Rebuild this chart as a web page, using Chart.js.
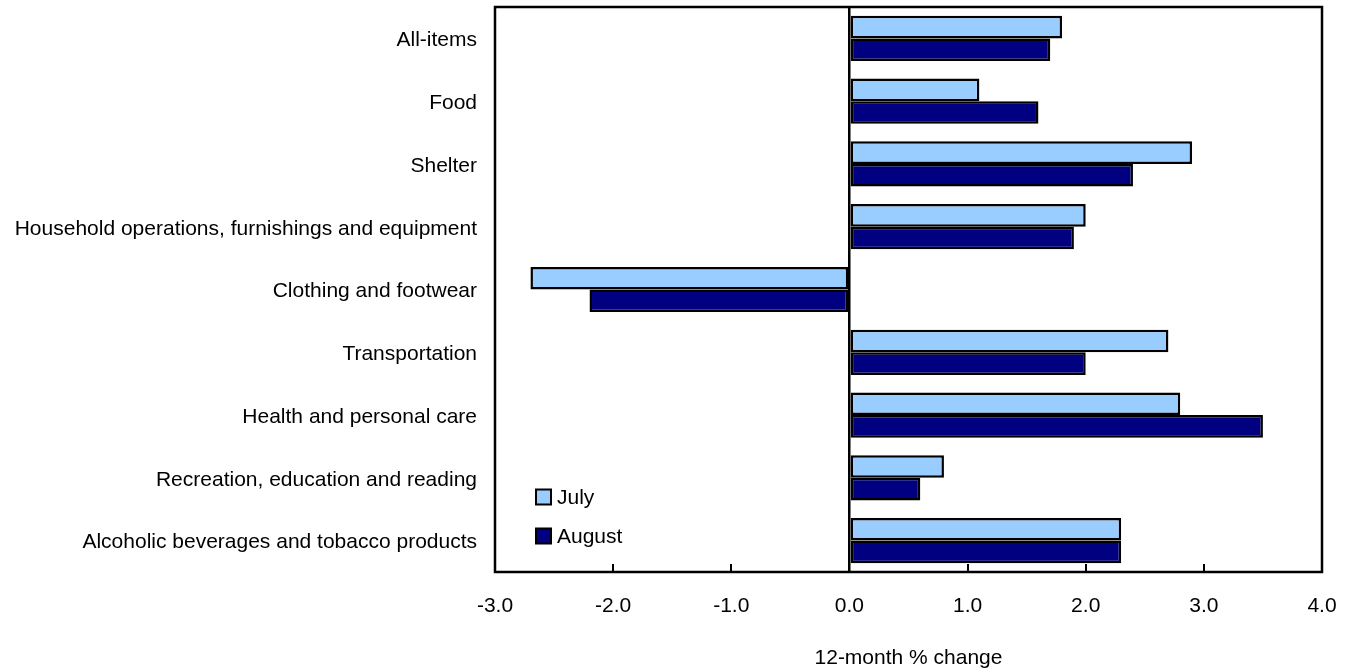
<!DOCTYPE html>
<html>
<head>
<meta charset="utf-8">
<script src="https://cdn.jsdelivr.net/npm/chart.js@4.4.1/dist/chart.umd.min.js"></script>
<style>
html,body{margin:0;padding:0;background:#fff;}
#wrap{width:1348px;height:668px;position:relative;}
</style>
</head>
<body>
<div id="wrap"><canvas id="c"></canvas></div>
<script>
const categories = [
  "All-items",
  "Food",
  "Shelter",
  "Household operations, furnishings and equipment",
  "Clothing and footwear",
  "Transportation",
  "Health and personal care",
  "Recreation, education and reading",
  "Alcoholic beverages and tobacco products"
];
const julyValues = [1.8, 1.1, 2.9, 2.0, -2.7, 2.7, 2.8, 0.8, 2.3];
const augustValues = [1.7, 1.6, 2.4, 1.9, -2.2, 2.0, 3.5, 0.6, 2.3];
const seriesNames = ["July", "August"];
const xTickMin = -3, xTickMax = 4, xTickStep = 1;
const xTitle = "12-month % change";

const FONT = "'Liberation Sans', Arial, Helvetica, sans-serif";
const FS = 21;
const colors = ["#99CCFF", "#000080"];

const framePlugin = {
  id: 'frame',
  afterDraw(chart) {
    const {ctx, chartArea: a, scales} = chart;
    ctx.save();
    ctx.strokeStyle = '#000';
    ctx.lineWidth = 2.5;
    ctx.strokeRect(a.left, a.top, a.right - a.left, a.bottom - a.top);
    const xs = scales.x;
    ctx.lineWidth = 2;
    xs.ticks.forEach(t => {
      const px = Math.round(xs.getPixelForValue(t.value));
      ctx.beginPath();
      ctx.moveTo(px, a.bottom);
      ctx.lineTo(px, a.bottom - 8);
      ctx.stroke();
    });
    ctx.font = FS + "px " + FONT;
    ctx.textBaseline = 'middle';
    ctx.textAlign = 'left';
    const lx = a.left + 41;
    const ly = [a.bottom - 75, a.bottom - 36];
    chart.data.datasets.forEach((ds, i) => {
      ctx.fillStyle = ds.backgroundColor;
      ctx.fillRect(lx, ly[i] - 7.5, 15, 15);
      ctx.lineWidth = 2;
      ctx.strokeStyle = '#000';
      ctx.strokeRect(lx, ly[i] - 7.5, 15, 15);
      ctx.fillStyle = '#000';
      ctx.fillText(ds.label, lx + 21, ly[i] + 1);
    });
    ctx.restore();
  }
};

const chart = new Chart(document.getElementById('c'), {
  type: 'bar',
  data: {
    labels: categories,
    datasets: [
      {label: seriesNames[0], data: julyValues, backgroundColor: colors[0], borderColor: '#000', borderWidth: 2.5, borderSkipped: false},
      {label: seriesNames[1], data: augustValues, backgroundColor: colors[1], borderColor: '#000', borderWidth: 2.5, borderSkipped: false}
    ]
  },
  options: {
    indexAxis: 'y',
    responsive: true,
    maintainAspectRatio: false,
    animation: false,
    datasets: {bar: {categoryPercentage: 0.72, barPercentage: 1.0}},
    layout: {padding: {top: 7, right: 26, left: 0, bottom: 0}},
    plugins: {legend: {display: false}, tooltip: {enabled: false}},
    scales: {
      x: {
        min: xTickMin, max: xTickMax,
        ticks: {stepSize: xTickStep, color: '#000', font: {family: FONT, size: FS}, padding: 22,
          callback: v => Number(v).toFixed(1)},
        grid: {drawTicks: false, lineWidth: 2.5,
          color: c => (c.tick && c.tick.value === 0) ? '#000' : 'rgba(0,0,0,0)'},
        border: {display: false},
        title: {display: true, text: xTitle, color: '#000', font: {family: FONT, size: FS}, padding: {top: 0, bottom: -3}},
        afterFit: s => { s.height = 96; s.paddingLeft = 0; s.paddingRight = 0; }
      },
      y: {
        ticks: {color: '#000', font: {family: FONT, size: FS}, padding: 18, labelOffset: 2},
        grid: {display: false, drawTicks: false},
        border: {display: false},
        afterFit: s => { s.width = 495; s.paddingTop = 0; s.paddingBottom = 0; }
      }
    }
  },
  plugins: [framePlugin]
});
</script>
</body>
</html>
